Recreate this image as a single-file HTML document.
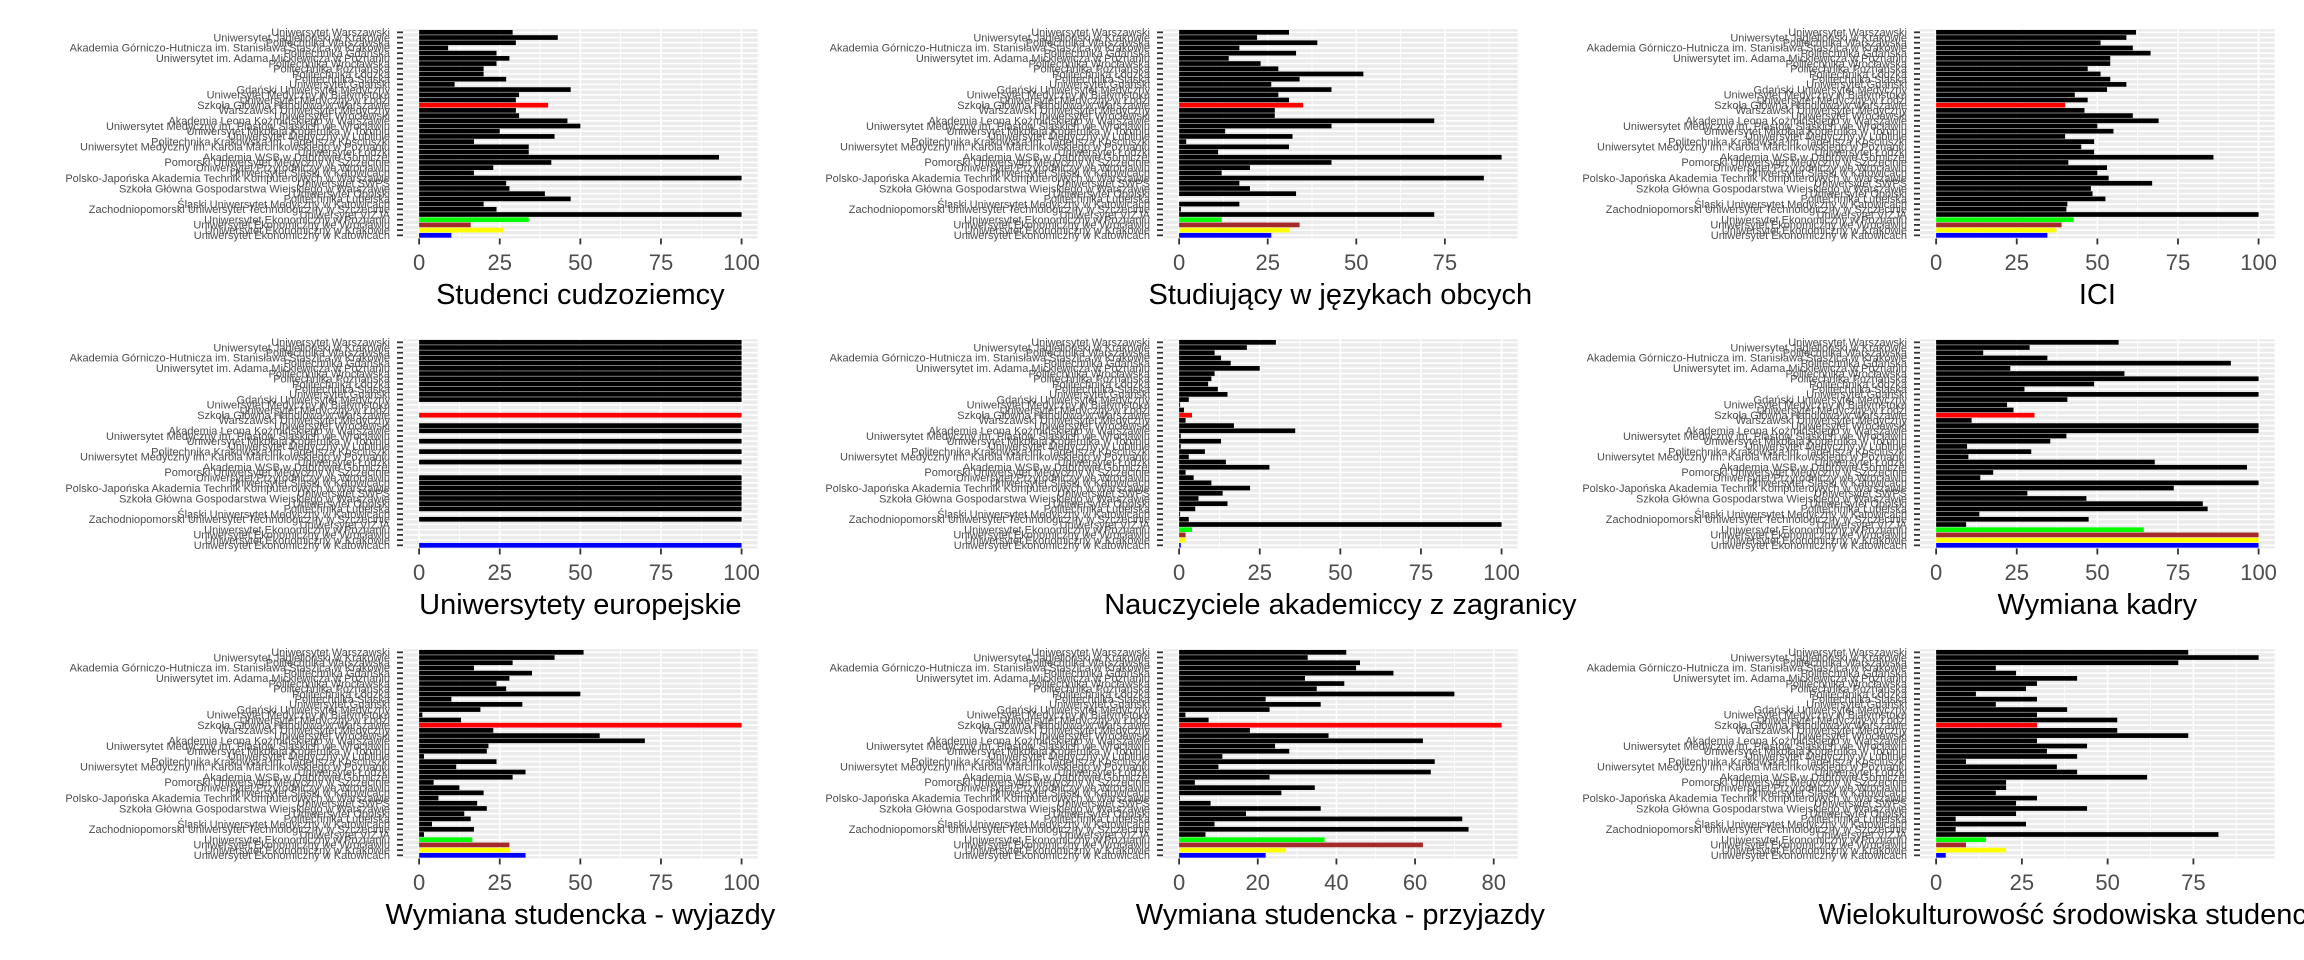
<!DOCTYPE html>
<html><head><meta charset="utf-8">
<style>
html,body{margin:0;padding:0;background:#fff;}
svg{display:block;}
text{font-family:"Liberation Sans",Arial,sans-serif;}
</style></head>
<body>
<svg id="chart" width="2304" height="960" xmlns="http://www.w3.org/2000/svg"></svg>
<script>
const universities = ["Uniwersytet Warszawski","Uniwersytet Jagielloński w Krakowie","Politechnika Warszawska","Akademia Górniczo-Hutnicza im. Stanisława Staszica w Krakowie","Politechnika Gdańska","Uniwersytet im. Adama Mickiewicza w Poznaniu","Politechnika Wrocławska","Politechnika Poznańska","Politechnika Łódzka","Politechnika Śląska","Uniwersytet Gdański","Gdański Uniwersytet Medyczny","Uniwersytet Medyczny w Białymstoku","Uniwersytet Medyczny w Łodzi","Szkoła Główna Handlowa w Warszawie","Warszawski Uniwersytet Medyczny","Uniwersytet Wrocławski","Akademia Leona Koźmińskiego w Warszawie","Uniwersytet Medyczny im. Piastów Śląskich we Wrocławiu","Uniwersytet Mikołaja Kopernika w Toruniu","Uniwersytet Medyczny w Lublinie","Politechnika Krakowska im. Tadeusza Kościuszki","Uniwersytet Medyczny im. Karola Marcinkowskiego w Poznaniu","Uniwersytet Łódzki","Akademia WSB w Dąbrowie Górniczej","Pomorski Uniwersytet Medyczny w Szczecinie","Uniwersytet Przyrodniczy we Wrocławiu","Uniwersytet Śląski w Katowicach","Polsko-Japońska Akademia Technik Komputerowych w Warszawie","Uniwersytet SWPS","Szkoła Główna Gospodarstwa Wiejskiego w Warszawie","Uniwersytet Opolski","Politechnika Lubelska","Śląski Uniwersytet Medyczny w Katowicach","Zachodniopomorski Uniwersytet Technologiczny w Szczecinie","Uniwersytet VIZJA","Uniwersytet Ekonomiczny w Poznaniu","Uniwersytet Ekonomiczny we Wrocławiu","Uniwersytet Ekonomiczny w Krakowie","Uniwersytet Ekonomiczny w Katowicach"];
const barColors = ["black","black","black","black","black","black","black","black","black","black","black","black","black","black","#ff0000","black","black","black","black","black","black","black","black","black","black","black","black","black","black","black","black","black","black","black","black","black","#00ff00","#a52a2a","#ffff00","#0000ff"];
const panelTitles = ["Studenci cudzoziemcy","Studiujący w językach obcych","ICI","Uniwersytety europejskie","Nauczyciele akademiccy z zagranicy","Wymiana kadry","Wymiana studencka - wyjazdy","Wymiana studencka - przyjazdy","Wielokulturowość środowiska studenckiego"];
const studenciCudzoziemcy = [29,43,30,9,24,28,24,20,20,27,11,47,31,30,40,30,31,46,50,25,42,17,34,34,93,41,23,17,100,27,28,39,47,20,24,100,34,16,26,10];
const jezykiObce = [31,22,39,17,33,14,23,28,52,34,26,43,28,31,35,27,27,72,43,13,32,2,31,11,91,43,20,12,86,17,20,33,0,17,0.5,72,12,34,31,26];
const ici = [62,59,51,61,66.5,54,54,47,51,54,59,53,43,47,40,46,61,69,50,55,40,49,45,49,86,41,53,50,53.5,67,48,48.5,52.5,40.7,40.4,100,42.6,38.9,37.3,34.5];
const uniEuropejskie = [100,100,100,100,100,100,100,100,100,100,100,100,0,0,100,0,100,100,0,100,0,100,0,100,0,0,100,100,100,100,100,100,100,0,100,0,0,0,0,100];
const nauczyciele = [30,21,11,13,16,25,11,10,9,12,15,3,0.3,1.5,4,2,17,36,0.5,13,0.5,8,3,14.5,28,2,4.5,10,22,13.5,6,15,5,0.3,3,100,4,2,2,0.5];
const wymianaKadry = [56.6,29,14.6,34.5,91.4,23,58.4,100,49,27.4,100,40.7,22,24,30.5,11,100,100,40.4,35.4,9.6,29.5,10,67.8,96.4,17.7,13.7,100,73.7,28.3,46.6,82.7,84.2,13.4,47.3,9.3,64.4,100,100,100];
const wyjazdy = [51,42,29,17,35,28,24,27,50,10,32,19,1,13,100,23,56,70,21.5,21,1.5,24,11.5,33,29,4.5,12.5,20,6,18,21,14,16,4,17,1.5,16.5,28,28,33];
const przyjazdy = [42.5,32.7,46,45,54.5,32,42,35,70,22,36,23,1.6,7.5,82,18,38,62,24.4,28,11,65,10,64,23,4,34.5,26,0.2,8,36,17,72,9,73.6,6.7,37,62,27,22];
const wielokulturowosc = [73.5,94,70.6,17.4,23.3,41.1,29.4,26.2,11.6,29.4,17.4,38.2,29.4,52.8,29.4,52.8,73.5,29.4,44,32.3,41.1,8.7,35.2,41.1,61.5,20.4,20.4,17.4,29.4,23.3,44,23.3,5.7,26.2,5.7,82.3,14.5,8.7,20.4,2.8];
const ticksA = [0,25,50,75,100];
const ticksB = [0,25,50,75];
const ticksC = [0,20,40,60,80];

const panels = [
  {title:panelTitles[0], values:studenciCudzoziemcy, ticks:ticksA, col:0,row:0, name:'studenci-cudzoziemcy'},
  {title:panelTitles[1], values:jezykiObce, ticks:ticksB, col:1,row:0, name:'studiujacy-w-jezykach-obcych'},
  {title:panelTitles[2], values:ici, ticks:ticksA, col:2,row:0, name:'ici'},
  {title:panelTitles[3], values:uniEuropejskie, ticks:ticksA, col:0,row:1, name:'uniwersytety-europejskie'},
  {title:panelTitles[4], values:nauczyciele, ticks:ticksA, col:1,row:1, name:'nauczyciele-z-zagranicy'},
  {title:panelTitles[5], values:wymianaKadry, ticks:ticksA, col:2,row:1, name:'wymiana-kadry'},
  {title:panelTitles[6], values:wyjazdy, ticks:ticksA, col:0,row:2, name:'wymiana-wyjazdy'},
  {title:panelTitles[7], values:przyjazdy, ticks:ticksC, col:1,row:2, name:'wymiana-przyjazdy'},
  {title:panelTitles[8], values:wielokulturowosc, ticks:ticksB, col:2,row:2, name:'wielokulturowosc'}
];
const colL = [403,1163,1920];
const PW = 354.7;
const rowT = [29.2,339.2,649.2];
const U = 5.205;
const NS = 'http://www.w3.org/2000/svg';
const svg = document.getElementById('chart');
function mk(tag, attrs, parent){
  const e = document.createElementNS(NS, tag);
  for (const k in attrs) e.setAttribute(k, attrs[k]);
  (parent||svg).appendChild(e);
  return e;
}
panels.forEach(p => {
  const g = mk('g', {});
  
  
  const L = colL[p.col], T = rowT[p.row];
  const n = universities.length;
  const H = (n - 1 + 1.2) * U;
  const B = T + H;
  const M = Math.max(...p.values);
  const x = v => L + PW * (v + 0.05 * M) / (1.1 * M);
  const yc = i => T + (0.6 + i) * U;
  const bg = mk('rect', {x:L, y:T, width:PW, height:H, fill:'#ebebeb'}, g);
  
  
  // minor vertical grid
  const step = p.ticks[1] - p.ticks[0];
  for (let k = 0; k < p.ticks.length + 1; k++) {
    const v = p.ticks[0] + step * (k + 0.5);
    if (x(v) < L + PW) mk('line', {x1:x(v), x2:x(v), y1:T, y2:B, stroke:'#fff', 'stroke-width':0.8}, g);
  }
  p.ticks.forEach(t => {
    mk('line', {x1:x(t), x2:x(t), y1:T, y2:B, stroke:'#fff', 'stroke-width':1.6}, g);
  });
  for (let i = 0; i < n; i++) {
    mk('line', {x1:L, x2:L+PW, y1:yc(i), y2:yc(i), stroke:'#fff', 'stroke-width':1.6}, g);
  }
  // bars
  p.values.forEach((v, i) => {
    const r = mk('rect', {x:x(0), y:yc(i) - 0.45*U, width:Math.max(0, x(v) - x(0)), height:0.9*U, fill:barColors[i]}, g);
    
    
  });
  // y axis ticks + labels
  universities.forEach((u, i) => {
    mk('line', {x1:L-6, x2:L, y1:yc(i), y2:yc(i), stroke:'#333', 'stroke-width':1.8}, g);
    const t = mk('text', {x:L-13, y:yc(i)+3.8, 'text-anchor':'end', 'font-size':11, fill:'#4d4d4d'}, g);
    
    
    t.textContent = u;
  });
  // x axis ticks
  p.ticks.forEach(tv => {
    mk('line', {x1:x(tv), x2:x(tv), y1:B, y2:B+6, stroke:'#333', 'stroke-width':1.8}, g);
    const t = mk('text', {x:x(tv), y:B+31.5, 'text-anchor':'middle', 'font-size':22, fill:'#4d4d4d'}, g);
    
    
    t.textContent = tv;
  });
  const tt = mk('text', {x:L + PW/2, y:B+65.5, 'text-anchor':'middle', 'font-size':29, fill:'#000'}, g);
  
  
  tt.textContent = p.title;
});
</script>
</body></html>
